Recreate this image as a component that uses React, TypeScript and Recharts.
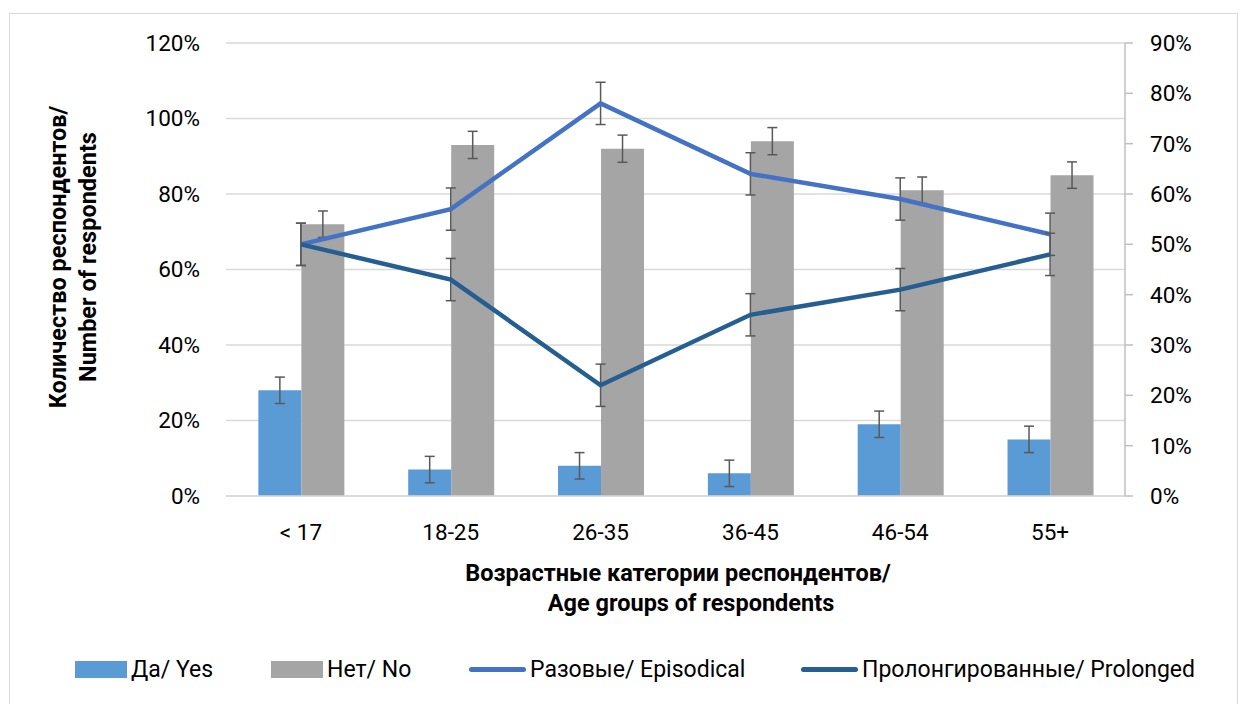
import React from "react";
import {
  ComposedChart,
  Bar,
  Line,
  XAxis,
  YAxis,
  CartesianGrid,
  Legend,
  ErrorBar,
  Label,
} from "recharts";

const categories = ["< 17", "18-25", "26-35", "36-45", "46-54", "55+"];

// left axis (%)
const yesValues = [28, 7, 8, 6, 19, 15];
const noValues = [72, 93, 92, 94, 81, 85];
const yesErrors = [3.5, 3.5, 3.5, 3.5, 3.5, 3.5];
const noErrors = [3.5, 3.6, 3.6, 3.6, 3.5, 3.5];

// right axis (%)
const episodicalValues = [50, 57, 78, 64, 59, 52];
const prolongedValues = [50, 43, 22, 36, 41, 48];
const episodicalErrors = [4.2, 4.2, 4.2, 4.2, 4.2, 4.2];
const prolongedErrors = [4.2, 4.2, 4.2, 4.2, 4.2, 4.2];

const leftTicks = [0, 20, 40, 60, 80, 100, 120];
const rightTicks = [0, 10, 20, 30, 40, 50, 60, 70, 80, 90];

const seriesNames = {
  yes: "Да/ Yes",
  no: "Нет/ No",
  episodical: "Разовые/ Episodical",
  prolonged: "Пролонгированные/ Prolonged",
};

const data = categories.map((name, i) => ({
  name,
  yes: yesValues[i],
  no: noValues[i],
  yesErr: yesErrors[i],
  noErr: noErrors[i],
  episodical: episodicalValues[i],
  prolonged: prolongedValues[i],
  epiErr: episodicalErrors[i],
  proErr: prolongedErrors[i],
}));

const FONT = "Roboto, 'Open Sans', sans-serif";
const TEXT = "#000000";
const ERR = "#595959";

const legendItems = [
  { label: seriesNames.yes, color: "#5B9BD5", kind: "box", left: 75 },
  { label: seriesNames.no, color: "#A5A5A5", kind: "box", left: 271 },
  { label: seriesNames.episodical, color: "#4472C4", kind: "line", left: 469 },
  { label: seriesNames.prolonged, color: "#255E91", kind: "line", left: 801 },
];

function LegendContent() {
  return (
    <div
      style={{
        position: "relative",
        height: 30,
        fontFamily: FONT,
        fontSize: 23,
        color: TEXT,
      }}
    >
      {legendItems.map((it) => (
        <div
          key={it.label}
          style={{
            position: "absolute",
            left: it.left,
            top: 0,
            height: 30,
            display: "flex",
            alignItems: "center",
            whiteSpace: "nowrap",
          }}
        >
          {it.kind === "box" ? (
            <div style={{ width: 52, height: 17, background: it.color }} />
          ) : (
            <div
              style={{
                width: 57,
                height: 5,
                borderRadius: 3,
                background: it.color,
              }}
            />
          )}
          <span style={{ marginLeft: 4 }}>{it.label}</span>
        </div>
      ))}
    </div>
  );
}

function XTitle(props: any) {
  const vb = props.viewBox || {};
  const y = vb.y;
  return (
    <g fontFamily={FONT} fontWeight="bold" fontSize={23.5} fill={TEXT}>
      <text x={678} y={y + 85} textAnchor="middle">
        Возрастные категории респондентов/
      </text>
      <text x={691} y={y + 115} textAnchor="middle">
        Age groups of respondents
      </text>
    </g>
  );
}

function YTitle() {
  return (
    <g fontFamily={FONT} fontWeight="bold" fontSize={23.5} fill={TEXT}>
      <text
        x={0}
        y={0}
        textAnchor="middle"
        transform="translate(66, 257) rotate(-90)"
      >
        Количество респондентов/
      </text>
      <text
        x={0}
        y={0}
        textAnchor="middle"
        transform="translate(96, 257) rotate(-90)"
      >
        Number of respondents
      </text>
    </g>
  );
}

export default function App() {
  return (
    <div
      style={{
        position: "absolute",
        left: 0,
        top: 0,
        width: 1247,
        height: 704,
        background: "#ffffff",
        overflow: "hidden",
      }}
    >
      <div
        style={{
          position: "absolute",
          left: 9,
          top: 13,
          width: 1229,
          height: 720,
          border: "1.5px solid #d9d9d9",
          boxSizing: "border-box",
        }}
      />
      <ComposedChart
        width={1247}
        height={704}
        data={data}
        margin={{ top: 43, right: 0, left: 0, bottom: 20 }}
        barCategoryGap="21.6%"
        barGap={0}
      >
        <CartesianGrid
          yAxisId="left"
          vertical={false}
          stroke="#d9d9d9"
          strokeWidth={1.5}
        />
        <XAxis
          dataKey="name"
          height={158}
          axisLine={{ stroke: "#d9d9d9", strokeWidth: 1.5 }}
          tickLine={false}
          tickSize={0}
          tickMargin={28}
          tick={{ fontFamily: FONT, fontSize: 22.5, fill: TEXT }}
        >
          <Label content={<XTitle />} />
        </XAxis>
        <YAxis
          yAxisId="left"
          width={226}
          domain={[0, 120]}
          ticks={leftTicks}
          interval={0}
          axisLine={false}
          tickLine={false}
          tickSize={0}
          tickMargin={26}
          tickFormatter={(v) => `${v}%`}
          tick={{ fontFamily: FONT, fontSize: 22.5, fill: TEXT }}
        >
          <Label content={<YTitle />} />
        </YAxis>
        <YAxis
          yAxisId="right"
          orientation="right"
          width={122}
          domain={[0, 90]}
          ticks={rightTicks}
          interval={0}
          axisLine={{ stroke: "#bfbfbf", strokeWidth: 1.5 }}
          tickLine={{ stroke: "#bfbfbf", strokeWidth: 1.5 }}
          tickSize={8}
          tickMargin={17}
          tickFormatter={(v) => `${v}%`}
          tick={{ fontFamily: FONT, fontSize: 22.5, fill: TEXT, textAnchor: "start" }}
        />
        <Bar
          yAxisId="left"
          dataKey="yes"
          name={seriesNames.yes}
          fill="#5B9BD5"
          isAnimationActive={false}
        >
          <ErrorBar dataKey="yesErr" width={5} stroke={ERR} strokeWidth={1.5} />
        </Bar>
        <Bar
          yAxisId="left"
          dataKey="no"
          name={seriesNames.no}
          fill="#A5A5A5"
          isAnimationActive={false}
        >
          <ErrorBar dataKey="noErr" width={5} stroke={ERR} strokeWidth={1.5} />
        </Bar>
        <Line
          yAxisId="right"
          type="linear"
          dataKey="episodical"
          name={seriesNames.episodical}
          stroke="#4472C4"
          strokeWidth={4.5}
          dot={false}
          activeDot={false}
          isAnimationActive={false}
        >
          <ErrorBar dataKey="epiErr" width={5} stroke={ERR} strokeWidth={1.5} />
        </Line>
        <Line
          yAxisId="right"
          type="linear"
          dataKey="prolonged"
          name={seriesNames.prolonged}
          stroke="#255E91"
          strokeWidth={4.5}
          dot={false}
          activeDot={false}
          isAnimationActive={false}
        >
          <ErrorBar dataKey="proErr" width={5} stroke={ERR} strokeWidth={1.5} />
        </Line>
        <Legend
          verticalAlign="bottom"
          align="left"
          height={30}
          content={<LegendContent />}
          wrapperStyle={{ left: 0, width: 1247 }}
        />
      </ComposedChart>
    </div>
  );
}
